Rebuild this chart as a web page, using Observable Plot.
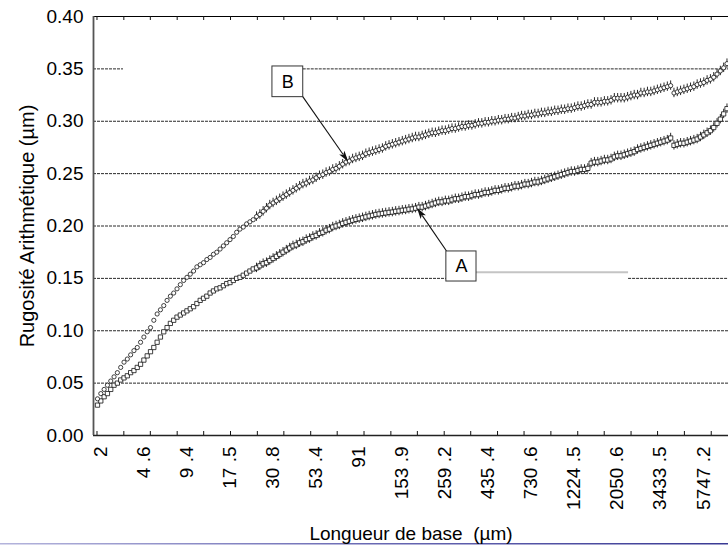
<!DOCTYPE html>
<html><head><meta charset="utf-8">
<script src="https://cdn.jsdelivr.net/npm/d3@7"></script>
<script src="https://cdn.jsdelivr.net/npm/@observablehq/plot@0.6"></script>
<style>
html,body{margin:0;padding:0;background:#fff;}
#chart svg{display:block;}
</style>
</head><body><div id="chart"></div>
<script>
// ---- data (x = point index along the base-length axis) ----
const xTickLabels = ["2","4 .6","9 .4","17 .5","30 .8","53 .4","91","153 .9","259 .2","435 .4","730 .6","1224 .5","2050 .6","3433 .5","5747 .2"];
const xLabelPositions = [0.9,13.9,26.9,39.9,52.9,65.9,78.9,91.9,104.9,117.9,130.9,143.9,156.9,169.9,182.9];
const xMinorTicks = [0,8.1,16.1,24.2,32.2,40.3,48.4,56.4,64.5,72.5,80.6,88.7,96.7,104.8,112.8,120.9,128.9,137,145.1,153.1,161.2,169.2,177.3,185.4];
const yTicks = [0,0.05,0.10,0.15,0.20,0.25,0.30,0.35,0.40];

// Courbe B (upper)
const seriesB = [
0.035,0.040,0.044,0.048,0.052,0.056,0.060,0.065,0.070,0.073,
0.077,0.081,0.084,0.089,0.094,0.099,0.103,0.110,0.116,0.120,
0.124,0.129,0.133,0.136,0.140,0.144,0.148,0.151,0.154,0.157,
0.161,0.163,0.165,0.168,0.170,0.173,0.175,0.178,0.181,0.184,
0.187,0.190,0.194,0.197,0.199,0.202,0.204,0.206,0.209,0.211,
0.214,0.217,0.220,0.222,0.224,0.226,0.228,0.230,0.232,0.234,
0.236,0.238,0.240,0.241,0.243,0.244,0.246,0.248,0.249,0.251,
0.252,0.254,0.255,0.257,0.259,0.261,0.262,0.264,0.265,0.266,
0.267,0.269,0.270,0.271,0.272,0.273,0.274,0.276,0.277,0.278,
0.279,0.280,0.281,0.282,0.283,0.284,0.285,0.285,0.286,0.287,
0.288,0.289,0.289,0.290,0.291,0.291,0.292,0.293,0.293,0.294,
0.295,0.295,0.296,0.296,0.297,0.298,0.298,0.299,0.299,0.300,
0.300,0.301,0.301,0.302,0.302,0.303,0.303,0.304,0.305,0.305,
0.306,0.306,0.307,0.307,0.308,0.308,0.309,0.309,0.310,0.310,
0.311,0.311,0.312,0.312,0.313,0.314,0.314,0.315,0.316,0.316,
0.318,0.318,0.318,0.319,0.319,0.320,0.322,0.322,0.322,0.322,
0.323,0.324,0.325,0.325,0.327,0.327,0.328,0.328,0.329,0.330,
0.331,0.332,0.333,0.334,0.327,0.328,0.329,0.330,0.331,0.332,
0.333,0.335,0.336,0.337,0.339,0.340,0.342,0.345,0.348,0.351,0.355
];
// Courbe A (lower)
const seriesA = [
0.029,0.033,0.037,0.040,0.044,0.048,0.050,0.053,0.055,0.057,
0.060,0.062,0.065,0.068,0.072,0.076,0.080,0.084,0.089,0.094,
0.099,0.103,0.107,0.110,0.113,0.115,0.117,0.119,0.121,0.123,
0.126,0.129,0.131,0.133,0.136,0.138,0.140,0.141,0.143,0.145,
0.146,0.148,0.150,0.151,0.153,0.155,0.157,0.159,0.160,0.162,
0.164,0.165,0.167,0.169,0.171,0.173,0.175,0.177,0.179,0.181,
0.182,0.184,0.185,0.187,0.188,0.190,0.191,0.193,0.194,0.196,
0.197,0.199,0.200,0.201,0.2025,0.2035,0.2045,0.2055,0.2063,0.207,
0.2078,0.2087,0.2095,0.2102,0.211,0.2115,0.212,0.2125,0.213,0.2133,
0.214,0.2143,0.215,0.2153,0.216,0.2163,0.217,0.218,0.218,0.219,
0.220,0.221,0.222,0.223,0.223,0.224,0.224,0.225,0.226,0.226,
0.227,0.228,0.228,0.229,0.230,0.230,0.231,0.232,0.232,0.233,
0.234,0.234,0.235,0.236,0.236,0.237,0.238,0.238,0.239,0.240,
0.240,0.241,0.242,0.242,0.243,0.244,0.245,0.246,0.247,0.248,
0.249,0.250,0.251,0.252,0.252,0.253,0.254,0.254,0.255,0.260,
0.261,0.261,0.262,0.263,0.263,0.264,0.266,0.267,0.267,0.268,
0.269,0.270,0.271,0.273,0.274,0.275,0.276,0.277,0.278,0.279,
0.280,0.281,0.282,0.284,0.277,0.278,0.279,0.279,0.280,0.281,
0.282,0.283,0.285,0.287,0.289,0.291,0.294,0.298,0.302,0.307,0.312
];

// annotation boxes and arrows (data units: point index, µm)
const annLabels = ["B", "A"];
const annBoxes = [[52.8, 62.1, 0.323, 0.3523], [105.3, 114.4, 0.147, 0.1757]];
const annArrowFrom = [[62.1, 0.323], [105.5, 0.1757]];
const annArrowTo = [[75.8, 0.261], [96.6, 0.2167]];
const gridGaps = [[0.35, 7.85, 62.1], [0.15, 105.3, 160.3]];
const greyLine = [[0.1559, 114.4, 160.3]];

// ---- layout ----
const xDomain = [-1.207, 190.46];
const font = "'Liberation Sans', Arial, Helvetica, sans-serif";
const whiskerFrom = 48;
const whisker = 0.0045;

const ptsA = seriesA.map((v, i) => ({i, v}));
const ptsB = seriesB.map((v, i) => ({i, v}));
const xLabels = xTickLabels.map((label, k) => ({pos: xLabelPositions[k], label}));

const gridSegs = [];
for (const t of yTicks.slice(1, -1)) {
  const gap = gridGaps.find(g => Math.abs(g[0] - t) < 1e-9);
  if (gap) {
    gridSegs.push({y: t, x1: xDomain[0], x2: gap[1]});
    gridSegs.push({y: t, x1: gap[2], x2: xDomain[1]});
  } else gridSegs.push({y: t, x1: xDomain[0], x2: xDomain[1]});
}

function frameTicks(index, scales, values, dims) {
  const {x, y} = scales;
  const g = d3.create("svg:g");
  for (const t of xMinorTicks) {
    const px = x(t);
    g.append("line").attr("x1", px).attr("x2", px).attr("y1", y(0.40)).attr("y2", y(0.40) + 4).attr("stroke", "#111").attr("stroke-width", 1);
    g.append("line").attr("x1", px).attr("x2", px).attr("y1", y(0)).attr("y2", y(0) - 4).attr("stroke", "#111").attr("stroke-width", 1);
  }
  const defs = g.append("defs");
  const lg = defs.append("linearGradient").attr("id", "pg").attr("x1", "0").attr("x2", "1");
  lg.append("stop").attr("offset", "0").attr("stop-color", "#b4b4dc");
  lg.append("stop").attr("offset", "0.5").attr("stop-color", "#6a6ab4");
  lg.append("stop").attr("offset", "1").attr("stop-color", "#3a3a94");
  g.append("rect").attr("x", 0).attr("y", dims.height - 6).attr("width", dims.width).attr("height", 1.5).attr("fill", "url(#pg)");
  return g.node();
}

function arrows(index, scales) {
  const {x, y} = scales;
  const g = d3.create("svg:g");
  annArrowFrom.forEach((f, k) => {
    const t = annArrowTo[k];
    const x0 = x(f[0]), y0 = y(f[1]), x1 = x(t[0]), y1 = y(t[1]);
    const dx = x1 - x0, dy = y1 - y0, L = Math.hypot(dx, dy);
    const ux = dx / L, uy = dy / L, hl = 11, hw = 3.2;
    const bx = x1 - ux * hl, by = y1 - uy * hl;
    g.append("line").attr("x1", x0).attr("y1", y0).attr("x2", bx + ux * 2).attr("y2", by + uy * 2)
      .attr("stroke", "#111").attr("stroke-width", 1.1);
    g.append("path").attr("d", `M${x1},${y1}L${bx - uy * hw},${by + ux * hw}L${bx + ux * 2.5},${by + uy * 2.5}L${bx + uy * hw},${by - ux * hw}Z`)
      .attr("fill", "#111");
  });
  return g.node();
}

const boxes = annBoxes.map((b, k) => ({x1: b[0], x2: b[1], y1: b[2], y2: b[3], label: annLabels[k], cx: (b[0] + b[1]) / 2, cy: (b[2] + b[3]) / 2}));

const chart = Plot.plot({
  width: 728, height: 549,
  marginLeft: 93, marginRight: 0, marginTop: 16, marginBottom: 114,
  x: {type: "linear", domain: xDomain, axis: null},
  y: {domain: [0, 0.40], axis: null},
  style: {fontFamily: font, background: "#fff", color: "#000", overflow: "hidden"},
  marks: [
    Plot.ruleY(gridSegs, {y: "y", x1: "x1", x2: "x2", stroke: "#2a2a2a", strokeWidth: 1, strokeDasharray: "3,1"}),
    Plot.ruleY(greyLine, {y: d => d[0], x1: d => d[1], x2: d => d[2], stroke: "#c4c4c4", strokeWidth: 2}),
    Plot.ruleY([0.40], {stroke: "#000", strokeWidth: 1}),
    Plot.ruleY([0], {stroke: "#222", strokeWidth: 1.5}),
    Plot.ruleX([xDomain[0]], {stroke: "#555", strokeWidth: 1.8}),
    frameTicks,
    Plot.ruleX(ptsA.filter(d => d.i >= whiskerFrom), {x: "i", y1: d => d.v - whisker, y2: d => d.v + whisker, stroke: "#111", strokeWidth: 0.9}),
    Plot.ruleX(ptsB.filter(d => d.i >= whiskerFrom), {x: "i", y1: d => d.v - whisker, y2: d => d.v + whisker, stroke: "#111", strokeWidth: 0.9}),
    Plot.dot(ptsA, {x: "i", y: "v", symbol: "square", r: 2.4, fill: "white", stroke: "#111", strokeWidth: 0.8}),
    Plot.dot(ptsB, {x: "i", y: "v", symbol: "circle", r: 2.1, fill: "white", stroke: "#111", strokeWidth: 0.8}),
    arrows,
    Plot.rect(boxes, {x1: "x1", x2: "x2", y1: "y1", y2: "y2", fill: "white", stroke: "#333", strokeWidth: 1}),
    Plot.text(boxes, {x: "cx", y: "cy", text: "label", fontSize: 18, fill: "#000"}),
    Plot.text(yTicks, {y: d => d, frameAnchor: "left", text: d => d.toFixed(2), textAnchor: "end", dx: -10, fontSize: 19, fill: "#000"}),
    Plot.text(xLabels, {x: "pos", frameAnchor: "bottom", text: "label", rotate: -90, textAnchor: "end", lineAnchor: "middle", dy: 11, fontSize: 19, fill: "#000"}),
    Plot.text(["Rugosité Arithmétique (µm)"], {frameAnchor: "left", rotate: -90, textAnchor: "middle", dx: -60, lineAnchor: "bottom", fontSize: 20, fill: "#000"}),
    Plot.text(["Longueur de base\u00a0 (µm)"], {frameAnchor: "bottom", textAnchor: "middle", dy: 104, lineAnchor: "bottom", fontSize: 19, fill: "#000"})
  ]
});
document.getElementById("chart").appendChild(chart);
</script>
</body></html>
